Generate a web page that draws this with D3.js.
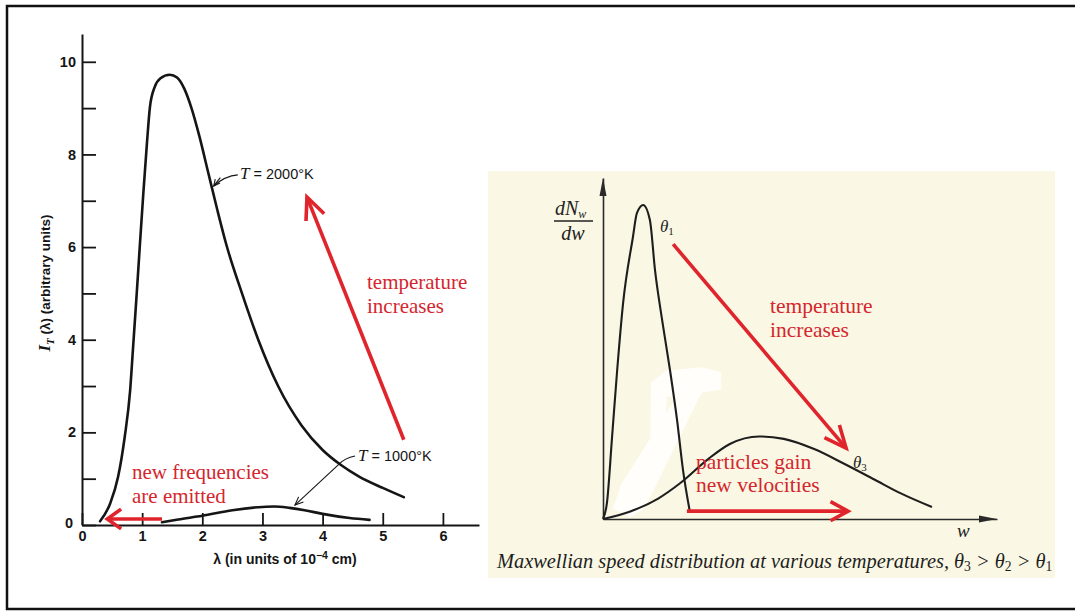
<!DOCTYPE html>
<html><head><meta charset="utf-8">
<script src="https://cdn.jsdelivr.net/npm/d3@7"></script>
<style>body{margin:0;background:#fff}svg{display:block}</style>
</head><body>
<svg id="c" width="1075" height="613"></svg>
<script>
// ---------- Left chart: blackbody intensity I_T(lambda) ----------
const xTicks = [0, 1, 2, 3, 4, 5, 6];
const yTicks = [0, 1, 2, 3, 4, 5, 6, 7, 8, 9, 10];
const lambda2000 = [0.30, 0.47, 0.60, 0.71, 0.80, 0.85, 0.91, 0.96, 1.02, 1.08, 1.13, 1.21, 1.30, 1.46, 1.58, 1.70, 1.82, 1.95, 2.10, 2.25, 2.40, 2.66, 2.93, 3.26, 3.65, 4.00, 4.30, 4.60, 5.00, 5.35];
const intensity2000 = [0.08, 0.47, 1.04, 1.90, 2.90, 3.85, 5.00, 6.00, 7.17, 8.25, 9.03, 9.46, 9.64, 9.72, 9.66, 9.42, 9.00, 8.40, 7.60, 6.80, 6.05, 5.00, 4.00, 3.00, 2.15, 1.62, 1.30, 1.05, 0.80, 0.60];
const lambda1000 = [1.33, 1.60, 2.00, 2.50, 3.00, 3.20, 3.45, 3.70, 4.00, 4.45, 4.78];
const intensity1000 = [0.06, 0.12, 0.20, 0.32, 0.39, 0.40, 0.37, 0.32, 0.24, 0.15, 0.11];

// ---------- Right chart: Maxwellian speed distribution ----------
const speedTheta1 = [0, 0.10, 0.23, 0.36, 0.51, 0.76, 0.86, 1.02, 1.19, 1.32, 1.50, 1.70, 1.88, 2.03, 2.21];
const densityTheta1 = [0, 0.47, 2.40, 4.37, 6.33, 8.27, 8.97, 9.21, 8.77, 7.30, 5.84, 4.37, 2.90, 1.44, 0.18];
const speedTheta3 = [0, 0.71, 1.40, 1.98, 2.66, 3.22, 3.96, 4.59, 5.36, 6.12, 6.90, 7.56, 8.35];
const densityTheta3 = [0, 0.23, 0.60, 1.07, 1.75, 2.20, 2.42, 2.35, 2.05, 1.62, 1.15, 0.75, 0.35];

const RED = '#e0242c', RED_TXT = '#d4262e', INK = '#151515';
const svg = d3.select('#c');

// outer frame
svg.append('rect').attr('x', 7).attr('y', 6).attr('width', 1085).attr('height', 603)
  .attr('fill', 'none').attr('stroke', '#111').attr('stroke-width', 2.5);

function arrow(g, p1, p2, arm, ang, w, col) {
  const dx = p2[0] - p1[0], dy = p2[1] - p1[1];
  const a = Math.atan2(dy, dx);
  const l = [p2[0] - arm * Math.cos(a - ang), p2[1] - arm * Math.sin(a - ang)];
  const r = [p2[0] - arm * Math.cos(a + ang), p2[1] - arm * Math.sin(a + ang)];
  g.append('line').attr('x1', p1[0]).attr('y1', p1[1]).attr('x2', p2[0]).attr('y2', p2[1])
    .attr('stroke', col).attr('stroke-width', w);
  g.append('path').attr('d', `M${l[0]},${l[1]}L${p2[0]},${p2[1]}L${r[0]},${r[1]}`)
    .attr('fill', 'none').attr('stroke', col).attr('stroke-width', w)
    .attr('stroke-linejoin', 'miter').attr('stroke-linecap', 'butt');
}

// ===== LEFT =====
const xL = d3.scaleLinear().domain([0, 6.6]).range([82, 479]);
const yL = d3.scaleLinear().domain([0, 10.6]).range([525, 34]);
const L = svg.append('g');

const gx = L.append('g').attr('transform', 'translate(0,525)')
  .call(d3.axisBottom(xL).tickValues(xTicks).tickSize(-12).tickSizeOuter(0).tickPadding(2)
    .tickFormat(d3.format('d')));
const gy = L.append('g').attr('transform', 'translate(82,0)')
  .call(d3.axisLeft(yL).tickValues(yTicks).tickSize(-14).tickSizeOuter(0).tickPadding(6)
    .tickFormat(d => d % 2 === 0 ? d : ''));
[gx, gy].forEach(g => {
  g.selectAll('.domain').attr('stroke', INK).attr('stroke-width', 2);
  g.selectAll('.tick line').attr('stroke', INK).attr('stroke-width', 1.8);
  g.selectAll('.tick text').attr('fill', INK).attr('font-family', '"Liberation Sans", Arial, sans-serif')
    .attr('font-weight', 'bold').attr('font-size', 14.5);
});
gx.selectAll('.tick text').attr('dy', '0.95em');
gy.selectAll('.tick').filter(d => d === 0).select('text').attr('x', -9).attr('dy', '0.2em');

const lineL = d3.line().x(d => xL(d[0])).y(d => yL(d[1])).curve(d3.curveMonotoneX);
L.append('path').datum(d3.zip(lambda2000, intensity2000)).attr('d', lineL)
  .attr('fill', 'none').attr('stroke', INK).attr('stroke-width', 2.6).attr('stroke-linecap', 'round');
L.append('path').datum(d3.zip(lambda1000, intensity1000)).attr('d', lineL)
  .attr('fill', 'none').attr('stroke', INK).attr('stroke-width', 2.6).attr('stroke-linecap', 'round');

// axis titles
const xt = L.append('text').attr('x', 285).attr('y', 564).attr('text-anchor', 'middle')
  .attr('font-family', '"Liberation Sans", Arial, sans-serif').attr('font-weight', 'bold')
  .attr('font-size', 14).attr('fill', INK);
xt.append('tspan').text('λ (in units of 10');
xt.append('tspan').attr('dy', -5).attr('font-size', 10.5).text('−4');
xt.append('tspan').attr('dy', 5).text(' cm)');

const yt = L.append('text').attr('transform', 'translate(50,283) rotate(-90)').attr('text-anchor', 'middle')
  .attr('font-family', '"Liberation Sans", Arial, sans-serif').attr('font-weight', 'bold')
  .attr('font-size', 13.5).attr('fill', INK);
yt.append('tspan').attr('font-family', '"Liberation Serif", serif').attr('font-style', 'italic').attr('font-size', 17).text('I');
yt.append('tspan').attr('dy', 4).attr('font-family', '"Liberation Serif", serif').attr('font-style', 'italic').attr('font-size', 11).text('T');
yt.append('tspan').attr('dy', -4).text(' (λ) (arbitrary units)');

// curve labels with leaders
function curveLabel(x, y, num) {
  const t = L.append('text').attr('x', x).attr('y', y).attr('fill', INK)
    .attr('font-family', '"Liberation Sans", Arial, sans-serif').attr('font-size', 14.5);
  t.append('tspan').attr('font-family', '"Liberation Serif", serif').attr('font-style', 'italic').attr('font-size', 17).text('T');
  t.append('tspan').text(' = ' + num + '°K');
}
curveLabel(240, 179, '2000');
curveLabel(358, 461, '1000');

const lead2000 = [[2.59, 7.56], [2.38, 7.54], [2.19, 7.32]];
L.append('path').attr('d', `M${xL(lead2000[0][0])},${yL(lead2000[0][1])}Q${xL(lead2000[1][0])},${yL(lead2000[1][1])} ${xL(lead2000[2][0])},${yL(lead2000[2][1])}`)
  .attr('fill', 'none').attr('stroke', INK).attr('stroke-width', 1.2);
arrow(L, [xL(2.30), yL(7.50)], [xL(lead2000[2][0]), yL(lead2000[2][1])], 7, 0.45, 1.1, INK);

const lead1000 = [[4.54, 1.49], [4.37, 1.45], [4.26, 1.30], [3.54, 0.43]];
L.append('path').attr('d', `M${xL(lead1000[0][0])},${yL(lead1000[0][1])}Q${xL(lead1000[1][0])},${yL(lead1000[1][1])} ${xL(lead1000[2][0])},${yL(lead1000[2][1])}`)
  .attr('fill', 'none').attr('stroke', INK).attr('stroke-width', 1.2);
arrow(L, [xL(lead1000[2][0]), yL(lead1000[2][1])], [xL(lead1000[3][0]), yL(lead1000[3][1])], 9, 0.4, 1.1, INK);

// red annotations (left)
arrow(L, [xL(5.35), yL(1.84)], [xL(3.74), yL(7.08)], 24, 0.42, 3.6, RED);
arrow(L, [xL(1.33), yL(0.13)], [xL(0.42), yL(0.13)], 17, 0.62, 3.6, RED);

function redText(g, x, y, lines, size, lh) {
  const t = g.append('text').attr('x', x).attr('y', y).attr('fill', RED_TXT)
    .attr('font-family', '"Liberation Serif", "Times New Roman", serif').attr('font-size', size);
  lines.forEach((s, i) => t.append('tspan').attr('x', x).attr('dy', i ? lh : 0).text(s));
}
redText(L, 367, 289, ['temperature', 'increases'], 21, 23.5);
redText(L, 132, 479, ['new frequencies', 'are emitted'], 21, 24);

// ===== RIGHT =====
const R = svg.append('g');
R.append('rect').attr('x', 488).attr('y', 171).attr('width', 567).attr('height', 407).attr('fill', '#faf8e4');

const xR = d3.scaleLinear().domain([0, 10]).range([603, 997]);
const yR = d3.scaleLinear().domain([0, 10]).range([519, 178]);

// white scan smudge
const smudge = [[1.20, 2.4], [1.22, 4.0], [1.6, 4.35], [2.5, 4.45], [3.0, 4.3], [3.0, 3.8], [2.5, 3.7], [1.05, 0.3], [0.7, 0.05], [0.25, 0.3], [0.45, 1.0], [1.85, 3.55], [1.62, 3.6], [1.58, 2.5]];
R.append('path').datum(smudge)
  .attr('d', d3.line().x(d => xR(d[0])).y(d => yR(d[1])).curve(d3.curveLinearClosed))
  .attr('fill', '#ffffff').attr('opacity', 0.85);

const gxr = R.append('g').attr('transform', `translate(0,${yR(0)})`)
  .call(d3.axisBottom(xR).tickValues([]).tickSizeOuter(0));
const gyr = R.append('g').attr('transform', `translate(${xR(0)},0)`)
  .call(d3.axisLeft(yR).tickValues([]).tickSizeOuter(0));
[gxr, gyr].forEach(g => g.select('.domain').attr('stroke', '#2a2a2a').attr('stroke-width', 1.6));
// axis arrowheads
R.append('path').attr('d', `M${xR(0)},${yR(10)}L${xR(0) - 3.5},${yR(10) + 18}L${xR(0) + 3.5},${yR(10) + 18}Z`).attr('fill', '#2a2a2a');
R.append('path').attr('d', `M${xR(10)},${yR(0)}L${xR(10) - 18},${yR(0) - 3.5}L${xR(10) - 18},${yR(0) + 3.5}Z`).attr('fill', '#2a2a2a');

const lineR = d3.line().x(d => xR(d[0])).y(d => yR(d[1])).curve(d3.curveMonotoneX);
R.append('path').datum(d3.zip(speedTheta1, densityTheta1)).attr('d', lineR)
  .attr('fill', 'none').attr('stroke', '#1e1e1e').attr('stroke-width', 2.1);
R.append('path').datum(d3.zip(speedTheta3, densityTheta3)).attr('d', lineR)
  .attr('fill', 'none').attr('stroke', '#1e1e1e').attr('stroke-width', 2.1);

const SERIF = '"Liberation Serif", "Times New Roman", serif';
// y label dN_w / dw
const yl1 = R.append('text').attr('x', 555).attr('y', 215).attr('font-family', SERIF).attr('font-style', 'italic')
  .attr('font-size', 20).attr('fill', '#222');
yl1.append('tspan').text('dN');
yl1.append('tspan').attr('dy', 3).attr('font-size', 12).text('w');
R.append('line').attr('x1', 554).attr('x2', 593).attr('y1', 221).attr('y2', 221).attr('stroke', '#222').attr('stroke-width', 1.3);
R.append('text').attr('x', 573).attr('y', 240).attr('text-anchor', 'middle').attr('font-family', SERIF)
  .attr('font-style', 'italic').attr('font-size', 20).attr('fill', '#222').text('dw');

function theta(x, y, sub) {
  const t = R.append('text').attr('x', x).attr('y', y).attr('font-family', SERIF).attr('font-style', 'italic')
    .attr('font-size', 17).attr('fill', '#222');
  t.append('tspan').text('θ');
  t.append('tspan').attr('dy', 3).attr('font-size', 11).attr('font-style', 'normal').text(sub);
}
theta(660, 232, '1');
theta(853, 468, '3');
R.append('text').attr('x', 957).attr('y', 537).attr('font-family', SERIF).attr('font-style', 'italic')
  .attr('font-size', 19).attr('fill', '#222').text('w');

// caption
const cap = R.append('text').attr('x', 497).attr('y', 568).attr('font-family', SERIF).attr('font-style', 'italic')
  .attr('font-size', 18).attr('fill', '#1e1e1e');
cap.append('tspan').text('Maxwellian speed distribution at various temperatures, θ');
cap.append('tspan').attr('dy', 3).attr('font-size', 12).attr('font-style', 'normal').text('3');
cap.append('tspan').attr('dy', -3).text(' > θ');
cap.append('tspan').attr('dy', 3).attr('font-size', 12).attr('font-style', 'normal').text('2');
cap.append('tspan').attr('dy', -3).text(' > θ');
cap.append('tspan').attr('dy', 3).attr('font-size', 12).attr('font-style', 'normal').text('1');
const capW = cap.node().getComputedTextLength();
if (capW > 0) {
  const k = 556 / capW;
  cap.attr('font-size', 18 * k);
  cap.selectAll('tspan').filter(function () { return this.getAttribute('font-size') === '12'; })
    .attr('font-size', 12 * k);
}

// red annotations (right)
arrow(R, [xR(1.78), yR(8.06)], [xR(6.17), yR(2.08)], 24, 0.42, 3.6, RED);
arrow(R, [xR(2.13), yR(0.23)], [xR(6.22), yR(0.23)], 20, 0.5, 3.6, RED);
redText(R, 770, 313, ['temperature', 'increases'], 21.5, 23.5);
redText(R, 696, 469, ['particles gain', 'new velocities'], 21.5, 22.5);
</script>
</body></html>
